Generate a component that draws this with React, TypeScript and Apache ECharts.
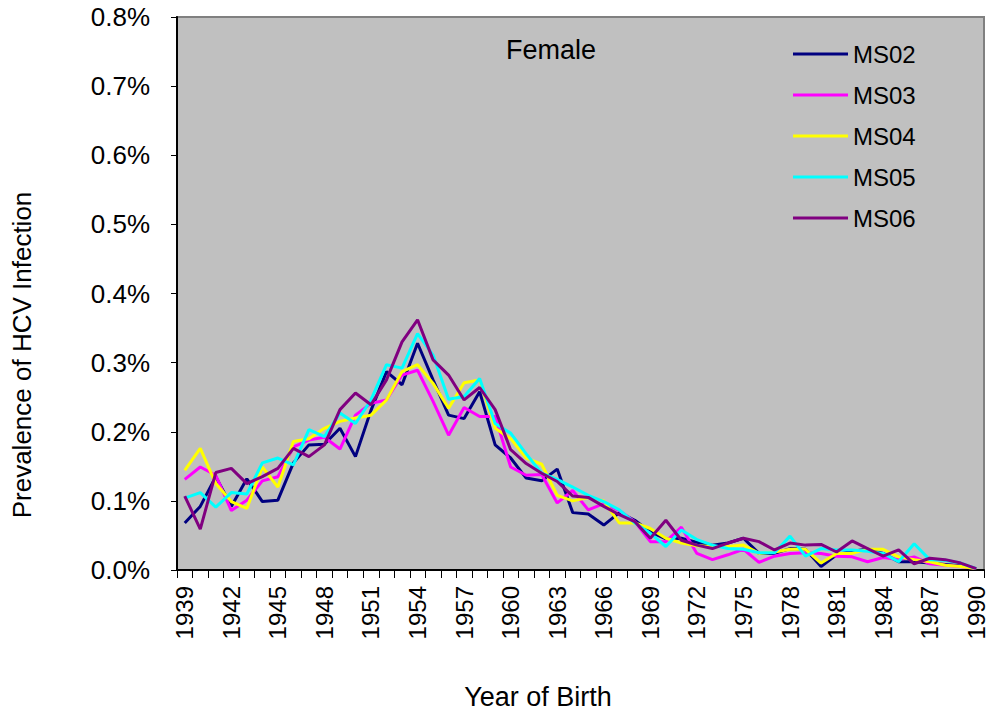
import React, { useEffect, useRef } from "react";
import * as echarts from "echarts";

const years: string[] = [];
for (let y = 1939; y <= 1990; y++) years.push(String(y));

const ms02 = [0.068, 0.092, 0.135, 0.092, 0.132, 0.099, 0.101, 0.155, 0.181, 0.182, 0.205, 0.164, 0.231, 0.287, 0.268, 0.328, 0.275, 0.224, 0.219, 0.258, 0.181, 0.162, 0.133, 0.129, 0.146, 0.083, 0.081, 0.065, 0.083, 0.072, 0.055, 0.045, 0.046, 0.04, 0.036, 0.039, 0.046, 0.024, 0.024, 0.031, 0.03, 0.005, 0.022, 0.027, 0.03, 0.024, 0.012, 0.012, 0.01, 0.008, 0.006, 0.002];
const ms03 = [0.131, 0.149, 0.137, 0.086, 0.101, 0.129, 0.135, 0.178, 0.188, 0.192, 0.175, 0.224, 0.241, 0.246, 0.282, 0.289, 0.244, 0.195, 0.235, 0.222, 0.222, 0.149, 0.137, 0.138, 0.097, 0.115, 0.087, 0.096, 0.086, 0.07, 0.041, 0.041, 0.062, 0.024, 0.015, 0.022, 0.03, 0.011, 0.02, 0.024, 0.025, 0.024, 0.02, 0.019, 0.012, 0.018, 0.015, 0.019, 0.009, 0.007, 0.005, 0.002];
const ms04 = [0.144, 0.176, 0.125, 0.099, 0.089, 0.149, 0.12, 0.186, 0.19, 0.205, 0.215, 0.22, 0.224, 0.246, 0.287, 0.297, 0.27, 0.234, 0.271, 0.275, 0.205, 0.19, 0.162, 0.153, 0.108, 0.1, 0.105, 0.1, 0.068, 0.068, 0.06, 0.046, 0.039, 0.035, 0.034, 0.034, 0.036, 0.024, 0.026, 0.03, 0.03, 0.01, 0.024, 0.024, 0.03, 0.03, 0.019, 0.015, 0.012, 0.007, 0.005, 0.002];
const ms05 = [0.104, 0.112, 0.091, 0.112, 0.11, 0.155, 0.162, 0.152, 0.203, 0.193, 0.227, 0.212, 0.246, 0.297, 0.292, 0.342, 0.311, 0.247, 0.251, 0.277, 0.212, 0.198, 0.168, 0.14, 0.131, 0.12, 0.108, 0.099, 0.087, 0.068, 0.053, 0.034, 0.058, 0.044, 0.036, 0.031, 0.03, 0.025, 0.025, 0.049, 0.02, 0.031, 0.029, 0.029, 0.027, 0.024, 0.012, 0.038, 0.015, 0.014, 0.01, 0.002];
const ms06 = [0.107, 0.059, 0.141, 0.147, 0.125, 0.135, 0.147, 0.176, 0.164, 0.181, 0.232, 0.256, 0.239, 0.275, 0.33, 0.362, 0.304, 0.282, 0.246, 0.264, 0.232, 0.174, 0.154, 0.14, 0.128, 0.107, 0.105, 0.092, 0.08, 0.07, 0.046, 0.072, 0.043, 0.036, 0.031, 0.039, 0.046, 0.041, 0.029, 0.039, 0.036, 0.037, 0.026, 0.042, 0.031, 0.02, 0.029, 0.009, 0.017, 0.015, 0.01, 0.002];

const seriesNames = ["MS02", "MS03", "MS04", "MS05", "MS06"];
const seriesData = [ms02, ms03, ms04, ms05, ms06];
const seriesColors = ["#000080", "#FF00FF", "#FFFF00", "#00FFFF", "#800080"];

const FONT = "'Liberation Sans', Arial, sans-serif";

export default function App() {
  const ref = useRef<HTMLDivElement>(null);
  useEffect(() => {
    if (!ref.current) return;
    const chart = echarts.init(ref.current, null, { renderer: "svg" });
    chart.setOption({
      animation: false,
      backgroundColor: "#ffffff",
      textStyle: { fontFamily: FONT },
      grid: {
        left: 177,
        top: 17,
        right: 9,
        bottom: 143,
        show: true,
        backgroundColor: "#C0C0C0",
        borderColor: "#808080",
        borderWidth: 2,
      },
      legend: {
        orient: "vertical",
        left: 788,
        top: 37,
        itemWidth: 55,
        itemHeight: 3,
        itemGap: 17,
        icon: "rect",
        data: seriesNames,
        textStyle: { fontFamily: FONT, fontSize: 24, color: "#000" },
      },
      graphic: [
        {
          type: "text",
          left: 506,
          top: 36,
          style: { text: "Female", fontFamily: FONT, fontSize: 27, fill: "#000" },
        },
        {
          type: "text",
          x: 538,
          y: 697,
          style: {
            text: "Year of Birth",
            fontFamily: FONT,
            fontSize: 27,
            fill: "#000",
            textAlign: "center",
            textVerticalAlign: "middle",
          },
        },
        {
          type: "text",
          x: 22,
          y: 355,
          rotation: Math.PI / 2,
          style: {
            text: "Prevalence of HCV Infection",
            fontFamily: FONT,
            fontSize: 26,
            fill: "#000",
            textAlign: "center",
            textVerticalAlign: "middle",
          },
        },
      ],
      xAxis: {
        type: "category",
        data: years,
        boundaryGap: true,
        axisLine: { show: true, lineStyle: { color: "#000", width: 2 } },
        axisTick: { show: true, interval: 0, length: 8, lineStyle: { color: "#000", width: 1 } },
        axisLabel: {
          interval: 2,
          rotate: 90,
          margin: 16,
          fontFamily: FONT,
          fontSize: 24,
          color: "#000",
        },
        splitLine: { show: false },
      },
      yAxis: {
        type: "value",
        min: 0,
        max: 0.8,
        interval: 0.1,
        axisLine: { show: true, lineStyle: { color: "#000", width: 2 } },
        axisTick: { show: true, length: 6, lineStyle: { color: "#000", width: 1 } },
        axisLabel: {
          margin: 27,
          fontFamily: FONT,
          fontSize: 26,
          color: "#000",
          formatter: (v: number) => v.toFixed(1) + "%",
        },
        splitLine: { show: false },
      },
      series: seriesNames.map((name, i) => ({
        name,
        type: "line",
        data: seriesData[i],
        symbol: "none",
        lineStyle: { color: seriesColors[i], width: 3 },
        itemStyle: { color: seriesColors[i] },
      })),
    });
    return () => chart.dispose();
  }, []);
  return (
    <div
      ref={ref}
      style={{ position: "fixed", left: 0, top: 0, width: 993, height: 713 }}
    />
  );
}
